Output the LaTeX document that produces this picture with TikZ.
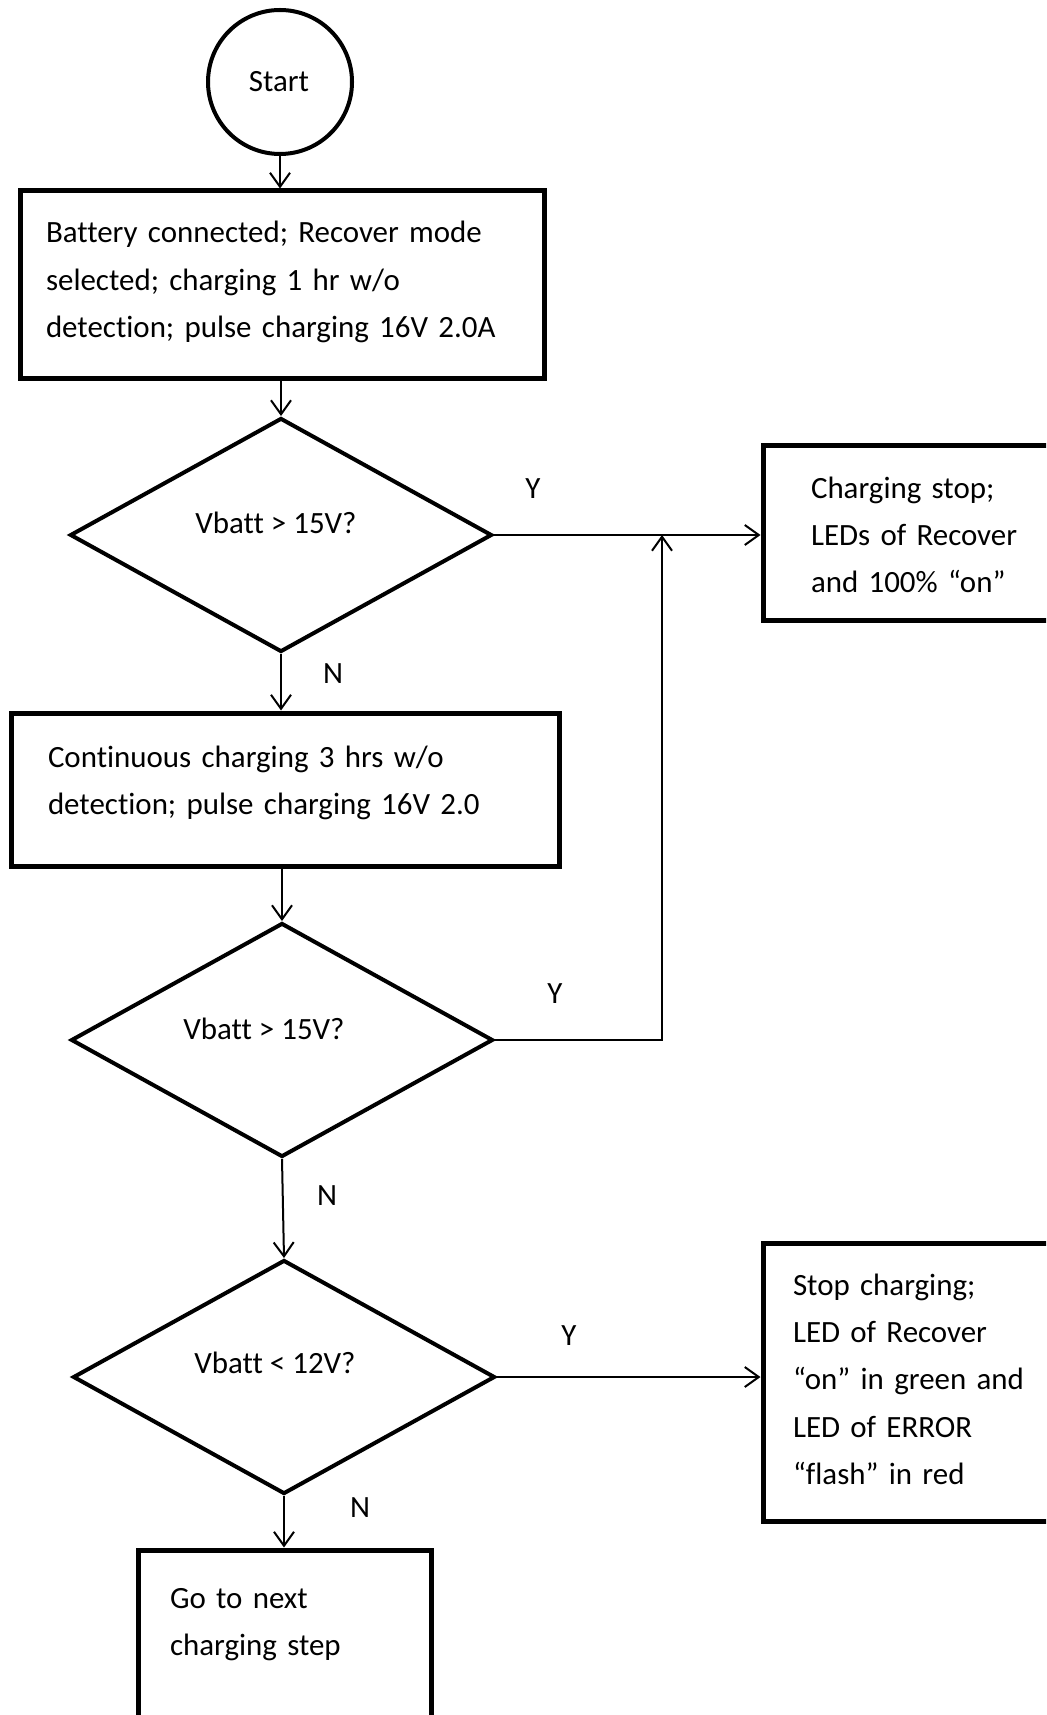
\documentclass[tikz,border=0pt]{standalone}
\usepackage{fontspec}
\setmainfont{Carlito}[Ligatures=NoCommon]
\usetikzlibrary{shapes.geometric,arrows.meta}
\newcommand{\fcfont}{\fontsize{23.2pt}{35.6pt}\selectfont}
\tikzset{
  boxnode/.style={draw, rectangle, line width=3.75pt, inner sep=0pt},
  decnode/.style={draw, diamond, line width=3pt, inner sep=0pt, minimum width=316.5pt, minimum height=175.5pt},
  txt/.style={inner sep=0pt, outer sep=0pt, anchor=base west, align=left, text width=450pt, font=\fcfont},
  lbl/.style={inner sep=0pt, outer sep=0pt, anchor=base, font=\fcfont},
  arr/.style={-{Straight Barb[length=10.5pt,width=15pt]}, line width=1.5pt},
  plain/.style={line width=1.5pt}
}
\begin{document}
\begin{tikzpicture}[x=0.75pt,y=-0.75pt]
\useasboundingbox (0,0) rectangle (1046,1715);
\clip (0,0) rectangle (1046,1715);
\fill[white] (0,0) rectangle (1046,1715);

% shapes
\node[draw, circle, line width=3pt, minimum size=108pt, inner sep=0pt] (start) at (280,82) {};
\node[lbl] (starttxt) at (279,92) {Start};

\node[boxnode, minimum width=393pt, minimum height=141pt] (box1) at (282,285) {};
\node[txt] (box1txt) at (46,243) {Battery connected; Recover mode\\selected; charging 1 hr w/o\\detection; pulse charging 16V 2.0A};

\node[decnode] (d1) at (281,535) {};
\node[lbl] (d1txt) at (276,533) {Vbatt > 15V?};

\node[boxnode, minimum width=260.25pt, minimum height=131.25pt] (cs) at (936.5,532.5) {};
\node[txt] (cstxt) at (811,498) {Charging stop;\\LEDs of Recover\\and 100\% “on”};

\node[boxnode, minimum width=411pt, minimum height=114.75pt] (box2) at (285,789.5) {};
\node[txt] (box2txt) at (48,767) {Continuous charging 3 hrs w/o\\detection; pulse charging 16V 2.0};

\node[decnode] (d2) at (282,1040) {};
\node[lbl] (d2txt) at (264,1039) {Vbatt > 15V?};

\node[decnode] (d3) at (284,1377) {};
\node[lbl] (d3txt) at (275,1373) {Vbatt < 12V?};

\node[boxnode, minimum width=260.25pt, minimum height=208.5pt] (box4) at (936.5,1382) {};
\node[txt] (box4txt) at (793,1295) {Stop charging;\\LED of Recover\\“on” in green and\\LED of ERROR\\“flash” in red};

\node[boxnode, minimum width=219.75pt, minimum height=172.5pt] (box5) at (284.5,1665) {};
\node[txt] (box5txt) at (170,1608) {Go to next\\charging step};

% labels
\node[lbl] (y1) at (533,498) {Y};
\node[lbl] (n1) at (333,683) {N};
\node[lbl] (y2) at (555,1003) {Y};
\node[lbl] (n2) at (327,1205) {N};
\node[lbl] (y3) at (569,1345) {Y};
\node[lbl] (n3) at (360,1517) {N};

\coordinate (j) at (662,535);

% connectors
\draw[arr] (start.south) -- (start.south |- box1.north);
\draw[arr] (box1.south -| d1.north) -- (d1.north);
\draw[arr] (d1.east) -- (d1.east -| cs.west);
\draw[arr] (d1.south) -- (d1.south |- box2.north);
\draw[arr] (box2.south -| d2.north) -- (d2.north);
\draw[arr] (d2.east) -| (j);
\draw[arr] (d2.south) -- (d3.north);
\draw[arr] (d3.east) -- (d3.east -| box4.west);
\draw[arr] (d3.south) -- (d3.south |- box5.north);
\end{tikzpicture}
\end{document}
